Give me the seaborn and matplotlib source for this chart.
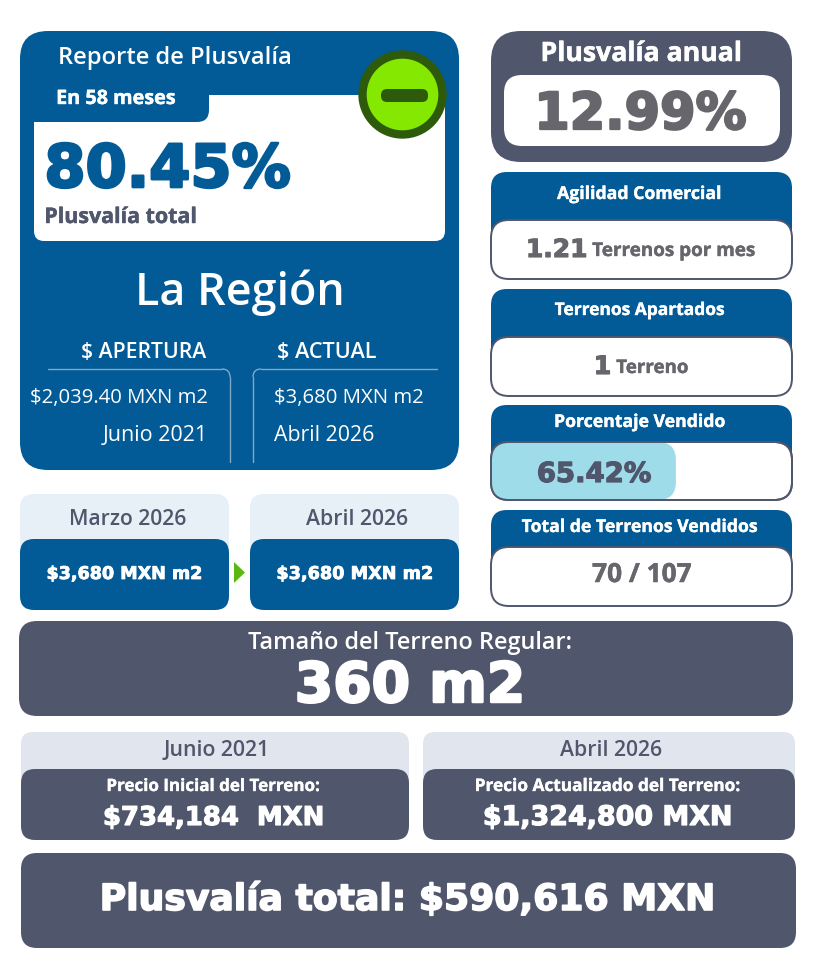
import matplotlib
matplotlib.use("Agg")
import matplotlib.pyplot as plt
import matplotlib.patheffects as pe
import seaborn as sns
import pandas as pd
from matplotlib.patches import FancyBboxPatch, Circle, Polygon
from matplotlib.path import Path
from matplotlib.patches import PathPatch
from matplotlib.textpath import TextPath
from matplotlib.font_manager import FontProperties

# ---- data ----
report_title = "Reporte de Plusvalía"
period = "En 58 meses"
total_pct = "80.45%"
total_pct_label = "Plusvalía total"
region = "La Región"
open_head, open_price, open_date = "$ APERTURA", "$2,039.40 MXN m2", "Junio 2021"
now_head, now_price, now_date = "$ ACTUAL", "$3,680 MXN m2", "Abril 2026"
prev_month, prev_price = "Marzo 2026", "$3,680 MXN m2"
this_month, this_price = "Abril 2026", "$3,680 MXN m2"
annual_label, annual_value = "Plusvalía anual", "12.99%"
agility_label, agility_value, agility_unit = "Agilidad Comercial", "1.21", "Terrenos por mes"
reserved_label, reserved_value, reserved_unit = "Terrenos Apartados", "1", "Terreno"
sold_label = "Porcentaje Vendido"
sold_names = ["Vendido"]
sold_pct = [65.42]
total_label, total_value = "Total de Terrenos Vendidos", "70 / 107"
size_label, size_value = "Tamaño del Terreno Regular:", "360 m2"
start_date, start_label, start_price = "Junio 2021", "Precio Inicial del Terreno:", "$734,184  MXN"
end_date, end_label, end_price = "Abril 2026", "Precio Actualizado del Terreno:", "$1,324,800 MXN"
gain_text = "Plusvalía total: $590,616 MXN"

BLUE = "#025A96"
SLATE = "#50566B"
GREY = "#66666C"
PALE = "#E6F0F6"
PALE2 = "#E1E5EE"
CYAN = "#9FDCE9"
WHITE = "#FFFFFF"
FONTS = {"black": ("DejaVu Sans", "bold", 0.045), "bold": ("Open Sans", "bold", 0.02),
         "medium": ("Open Sans", "semibold", 0.0), "normal": ("Open Sans", "normal", 0.0)}

sns.set_theme(style="white")
plt.rcParams["font.family"] = ["Open Sans", "DejaVu Sans"]

W, H = 814, 979
fig = plt.figure(figsize=(W / 100, H / 100), dpi=100, facecolor="white")
ax = fig.add_axes([0, 0, 1, 1])
ax.set_xlim(0, W)
ax.set_ylim(H - 1, -1)
ax.axis("off")


def box(x0, y0, x1, y1, r, fc, ec="none", lw=0, z=1, target=None):
    p = FancyBboxPatch((x0, y0), x1 - x0, y1 - y0,
                       boxstyle=f"round,pad=0,rounding_size={r}",
                       fc=fc, ec=ec, lw=lw, zorder=z)
    (target or ax).add_patch(p)
    return p


def txt(s, x0, x1, base, color=WHITE, weight="bold"):
    family, wgt, stroke = FONTS[weight]
    fp = FontProperties(family=family, weight=wgt)
    w = TextPath((0, 0), s, size=100, prop=fp).get_extents().width
    size_pt = 100 * (x1 - x0) / w * 0.72
    t = ax.text((x0 + x1) / 2, base - 1, s, ha="center", va="baseline", color=color,
                fontproperties=fp, fontsize=size_pt, zorder=10)
    if stroke:
        t.set_path_effects([pe.withStroke(linewidth=size_pt * stroke, foreground=color)])


# main blue panel
box(20, 31, 459, 470, 28, BLUE)
box(34, 95, 445, 241, 10, WHITE, z=2)
ax.add_patch(PathPatch(Path(
    [(34, 92), (209, 92), (209, 122 - 12), (209, 122), (197, 122), (34, 122), (34, 92)],
    [Path.MOVETO, Path.LINETO, Path.LINETO, Path.CURVE3, Path.CURVE3, Path.LINETO, Path.CLOSEPOLY]),
    fc=BLUE, ec="none", zorder=3))
ax.add_patch(Circle((402.5, 94.5), 40, fc="#84E800", ec="#2D5A0B", lw=6, zorder=4))
box(381, 89, 428, 102, 6, "#2D5A0B", z=5)

txt(report_title, 60, 290, 64, weight="medium")
txt(period, 57, 174, 105, weight="bold")
txt(total_pct, 47, 288, 188, BLUE, weight="black")
txt(total_pct_label, 46, 195, 224, SLATE, weight="bold")
txt(region, 139, 341, 305, weight="medium")
txt(open_head, 82, 206, 358, weight="medium")
txt(now_head, 278, 376, 358, weight="medium")
txt(open_price, 31, 206, 403, weight="normal")
txt(open_date, 104, 206, 441, weight="normal")
txt(now_price, 275, 423, 403, weight="normal")
txt(now_date, 275, 374, 441, weight="normal")

LINE = "#7FA9C9"
for xs, ys in [([48, 222], [369, 369]), ([230, 230], [377, 462]),
               ([261, 437], [369, 369]), ([253, 253], [377, 462])]:
    ax.plot(xs, ys, color=LINE, lw=1, zorder=3)
for verts in [[(222, 369), (230, 369), (230, 377)], [(261, 369), (253, 369), (253, 377)]]:
    ax.add_patch(PathPatch(Path(verts, [Path.MOVETO, Path.CURVE3, Path.CURVE3]),
                           fc="none", ec=LINE, lw=1, zorder=3))

# month comparison
for x0, x1, month, price, m0, m1, p0, p1 in [
    (20, 229, prev_month, prev_price, 70, 185, 48, 201),
    (250, 459, this_month, this_price, 307, 408, 278, 432),
]:
    box(x0, 494, x1, 600, 14, PALE)
    box(x0, 539, x1, 610, 14, BLUE, z=2)
    txt(month, m0, m1, 525, SLATE, weight="medium")
    txt(price, p0, p1, 580, weight="black")
ax.add_patch(Polygon([(234, 562), (245, 572.5), (234, 583)], fc="#5CB811", ec="none"))

# annual card
box(491, 31, 792, 162, 30, SLATE)
box(504, 75, 780, 146, 18, WHITE, z=2)
txt(annual_label, 543, 740, 62, weight="bold")
txt(annual_value, 538, 743, 130, GREY, weight="black")


# KPI cards
def card(top, white_top, white_bot):
    box(491, top, 792, white_top + 30, 16, BLUE)
    return box(491, white_top, 792, white_bot, 18, WHITE, ec=SLATE, lw=1.4, z=2)


card(172, 220, 279)
txt(agility_label, 558, 721, 200, weight="bold")
txt(agility_value, 528, 585, 258, GREY, weight="black")
txt(agility_unit, 593, 755, 257, GREY, weight="bold")

card(289, 337, 396)
txt(reserved_label, 555, 724, 316, weight="bold")
txt(reserved_value, 596, 609, 375, GREY, weight="black")
txt(reserved_unit, 617, 688, 374, GREY, weight="bold")

card(405, 442, 500)
txt(sold_label, 555, 724, 428, weight="bold")
# progress bar: its own axes, its end rounded and clipped to the white card
sold_df = pd.DataFrame({"name": sold_names, "pct": sold_pct})
ins = fig.add_axes([491 / W, 1 - 500 / H, 301 / W, 58 / H], zorder=0)
ins.patch.set_alpha(0)
sns.barplot(data=sold_df, x="pct", y="name", color=CYAN, width=1.0, saturation=1, ax=ins)
ins.set_xlim(0, 106.5)
ins.axis("off")
for bar in ins.patches:
    bar.set_visible(False)
    xend = 491 + 301 * (bar.get_x() + bar.get_width()) / 106.5
    rb = box(491, 442, xend, 500, 18, CYAN, z=3)
box(491, 442, 792, 500, 18, "none", ec=SLATE, lw=1.4, z=4)
txt(f"{sold_pct[0]:.2f}%", 538, 650, 483, SLATE, weight="black")

card(510, 547, 606)
txt(total_label, 522, 757, 533, weight="bold")
txt(total_value, 593, 691, 583, GREY, weight="bold")

# bottom blocks
box(19, 621, 793, 716, 18, SLATE)
txt(size_label, 249, 571, 649, weight="medium")
txt(size_value, 299, 521, 703, weight="black")

for x0, x1, date, d0, d1, label, l0, l1, price, p0, p1 in [
    (21, 409, start_date, 165, 269, start_label, 108, 319, start_price, 105, 322),
    (423, 795, end_date, 561, 662, end_label, 476, 739, end_price, 485, 730),
]:
    box(x0, 732, x1, 800, 12, PALE2)
    box(x0, 769, x1, 840, 14, SLATE, z=2)
    txt(date, d0, d1, 756, SLATE, weight="medium")
    txt(label, l0, l1, 792, weight="bold")
    txt(price, p0, p1, 826, weight="black")

box(21, 853, 796, 948, 16, SLATE)
txt(gain_text, 103, 712, 911, weight="black")

fig.savefig("out.png", dpi=100, facecolor="white")
